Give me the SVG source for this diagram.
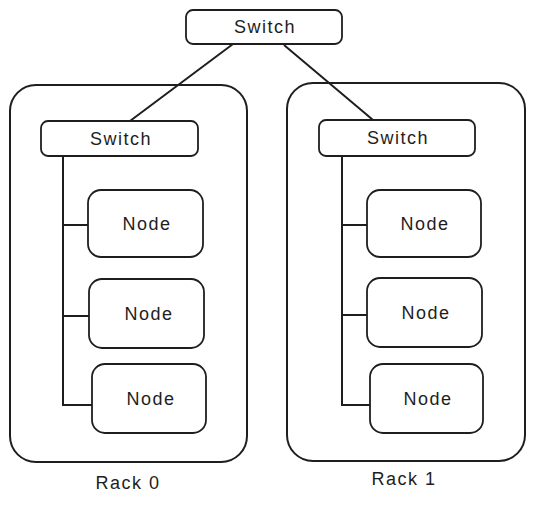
<svg xmlns="http://www.w3.org/2000/svg" width="534" height="505" viewBox="0 0 534 505">
<style>
.box{fill:#ffffff;stroke:#1e1e1e;stroke-width:1.8}
.rack{fill:none;stroke:#1e1e1e;stroke-width:2}
.lbl{font-family:"Liberation Sans",Arial,sans-serif;font-size:18px;fill:#1e1e1e;text-anchor:middle;letter-spacing:1.5px}
.wire{fill:none;stroke:#1e1e1e;stroke-width:2}
</style>
<rect width="534" height="505" fill="#ffffff"/>
<g id="rack0">
<rect class="rack" x="10" y="85" width="237" height="377" rx="26"/>
<text class="lbl" x="128" y="489">Rack 0</text>
</g>
<g id="rack1">
<rect class="rack" x="287" y="83" width="238" height="378" rx="26"/>
<text class="lbl" x="404" y="485">Rack 1</text>
</g>
<g id="connectors">
<path class="wire" d="M233 44 L130 121" stroke-width="2.8"/>
<path class="wire" d="M284 45 L373 120" stroke-width="1.5"/>
<path class="wire" d="M63 156 V405 H92 M63 225 H89 M63 316 H90"/>
<path class="wire" d="M342 156 V405 H370 M342 225 H367 M342 315 H368"/>
</g>
<g id="switch-top">
<rect class="box" x="186" y="10" width="156" height="34" rx="7"/>
<text class="lbl" x="265" y="33">Switch</text>
</g>
<g id="switch-rack0">
<rect class="box" x="41" y="121" width="157" height="35" rx="7"/>
<text class="lbl" x="121" y="145">Switch</text>
</g>
<g id="switch-rack1">
<rect class="box" x="319" y="120" width="156" height="36" rx="7"/>
<text class="lbl" x="398" y="144">Switch</text>
</g>
<g id="rack0-node1">
<rect class="box" x="88" y="190" width="115" height="67" rx="13"/>
<text class="lbl" x="147" y="230">Node</text>
</g>
<g id="rack0-node2">
<rect class="box" x="89" y="279" width="115" height="69" rx="13"/>
<text class="lbl" x="149" y="320">Node</text>
</g>
<g id="rack0-node3">
<rect class="box" x="92" y="364" width="114" height="69" rx="13"/>
<text class="lbl" x="151" y="405">Node</text>
</g>
<g id="rack1-node1">
<rect class="box" x="367" y="190" width="114" height="67" rx="13"/>
<text class="lbl" x="425" y="230">Node</text>
</g>
<g id="rack1-node2">
<rect class="box" x="367" y="278" width="115" height="69" rx="13"/>
<text class="lbl" x="426" y="319">Node</text>
</g>
<g id="rack1-node3">
<rect class="box" x="370" y="364" width="113" height="69" rx="13"/>
<text class="lbl" x="428" y="405">Node</text>
</g>
</svg>
